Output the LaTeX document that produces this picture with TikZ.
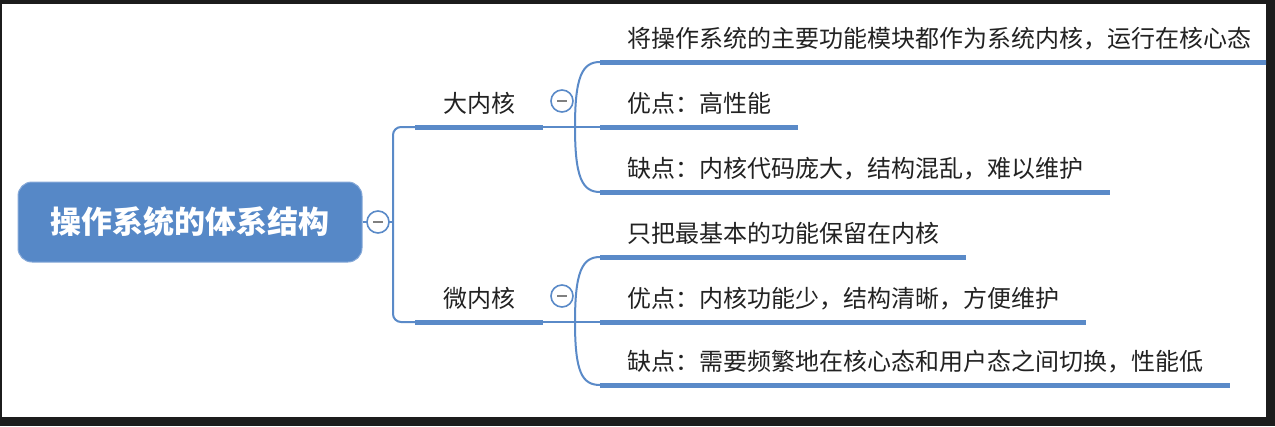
\documentclass[tikz,border=0pt]{standalone}
\usepackage{fontspec}
\newfontfamily\cjk{Noto Sans CJK SC}
\definecolor{mapblue}{HTML}{5A8AC8}
\definecolor{rootblue}{HTML}{5688C7}
\definecolor{rootedge}{HTML}{86A9D8}
\definecolor{inkgray}{HTML}{222222}
\definecolor{framegray}{HTML}{1C1C1C}

\begin{document}
\begin{tikzpicture}[x=1pt,y=-1pt]
   \tikzstyle{topic}=[rectangle,rounded corners=14pt,fill=rootblue,draw=rootedge,line width=1pt,
     minimum width=344pt,minimum height=80pt,text=white,font=\cjk\bfseries\fontsize{31}{36}\selectfont]
   \tikzstyle{branch}=[anchor=south west,inner xsep=27pt,inner ysep=12pt,minimum width=128pt,
     text=inkgray,font=\cjk\fontsize{24}{28}\selectfont]
   \tikzstyle{leaf}=[anchor=south west,inner xsep=27pt,inner ysep=12pt,
     text=inkgray,font=\cjk\fontsize{24}{28}\selectfont]
   \tikzstyle{uline}=[draw=mapblue,line width=5pt]
   \tikzstyle{conn}=[draw=mapblue,line width=2pt]
   \tikzstyle{fold}=[circle,draw=mapblue,line width=1.6pt,fill=white,minimum size=22pt,inner sep=0pt,
     path picture={\draw[gray,line width=2pt] ([xshift=-5pt]path picture bounding box.center) -- ([xshift=5pt]path picture bounding box.center);}]
\useasboundingbox (0,0) rectangle (1275,426);
\fill[framegray] (0,0) rectangle (1275,426);
\fill[white] (2,4) rectangle (1266,417);
\begin{scope}
\clip (2,4) rectangle (1266,417);

\node[topic] (root) at (190,222) {操作系统的体系结构};
\coordinate (spine) at (393,222);
\node[branch] (bigk) at (415,127) {大内核};
\node[branch] (microk) at (415,322) {微内核};
\coordinate (j1) at (575,127);
\coordinate (j2) at (575,322);

\node[leaf] (bigA) at (600,62) {将操作系统的主要功能模块都作为系统内核，运行在核心态};
\node[leaf] (bigB) at (600,127) {优点：高性能};
\node[leaf] (bigC) at (600,192) {缺点：内核代码庞大，结构混乱，难以维护};
\node[leaf] (microA) at (600,257) {只把最基本的功能保留在内核};
\node[leaf] (microB) at (600,322) {优点：内核功能少，结构清晰，方便维护};
\node[leaf] (microC) at (600,385) {缺点：需要频繁地在核心态和用户态之间切换，性能低};

% underlines
\foreach \n in {bigk,microk,bigA,bigB,bigC,microA,microB,microC}
  \draw[uline] (\n.south west) -- (\n.south east);

% connectors
\draw[conn] (root.east) -- (spine);
\draw[conn,rounded corners=8pt] (bigk.south west) -| (spine) |- (microk.south west);
\foreach \b/\j/\p in {bigk/j1/big,microk/j2/micro}{
  \draw[conn] (\b.south east) -- (\j) -- (\p B.south west);
  \draw[conn] (\j) .. controls +(0,-50) and +(-18,0) .. (\p A.south west);
  \draw[conn] (\j) .. controls +(0,50) and +(-18,0) .. (\p C.south west);
}

\node[fold] (f0) at (378,222) {};
\node[fold] (f1) at (562,101) {};
\node[fold] (f2) at (562,296) {};
\end{scope}

\end{tikzpicture}
\end{document}
